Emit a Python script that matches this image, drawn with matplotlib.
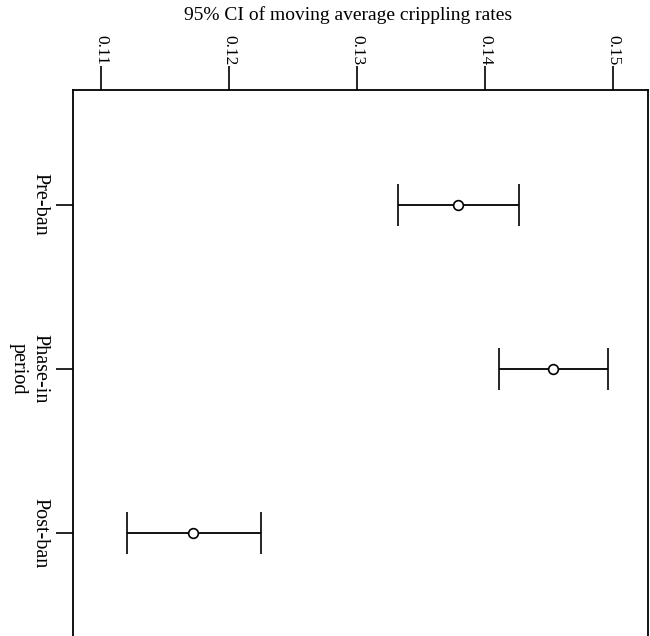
import matplotlib
matplotlib.use("Agg")
import matplotlib.pyplot as plt
import numpy as np

# periods and 95% CI of moving average crippling rates
periods = ["Pre-ban", "Phase-in\nperiod", "Post-ban"]
mean_rate = [0.1379, 0.1453, 0.1172]
ci_low = [0.1332, 0.1411, 0.1120]
ci_high = [0.1426, 0.1496, 0.1225]
xticks = [0.11, 0.12, 0.13, 0.14, 0.15]

plt.rcParams['font.family'] = ['Liberation Serif', 'DejaVu Serif']

fig = plt.figure(figsize=(6.5, 6.36), dpi=100)
ax = fig.add_axes([73/650, 0.0, 575/650, 1 - 90/636])

pos = np.arange(1, len(periods) + 1)
mean_rate = np.array(mean_rate)
err = [mean_rate - np.array(ci_low), np.array(ci_high) - mean_rate]
ax.errorbar(mean_rate, pos, xerr=err, fmt='o', color='black', mfc='white',
            ms=7, mew=1.2, lw=1.3, capsize=15, capthick=1.5)

ax.set_xlim(0.1078, 0.1527)
ax.set_ylim(3.63, 0.30)

ax.xaxis.tick_top()
ax.set_xticks(xticks)
ax.set_xticklabels(["%.2f" % v for v in xticks], rotation=-90)
ax.tick_params(axis='x', labelsize=12.5, length=17, width=1.2, pad=1)

# title sits above the tick labels
fig.text(348/650, 1 - 15/636, '95% CI of moving average crippling rates',
         fontsize=14, ha='center', va='center')

ax.set_yticks(pos)
ax.set_yticklabels(periods, rotation=-90, va='center', ha='right',
                   multialignment='center')
ax.tick_params(axis='y', labelsize=14.5, length=12, width=1.2, pad=5)

ax.spines['bottom'].set_visible(False)
for s in ['top', 'left', 'right']:
    ax.spines[s].set_linewidth(1.3)

fig.savefig('out.png', dpi=100)
